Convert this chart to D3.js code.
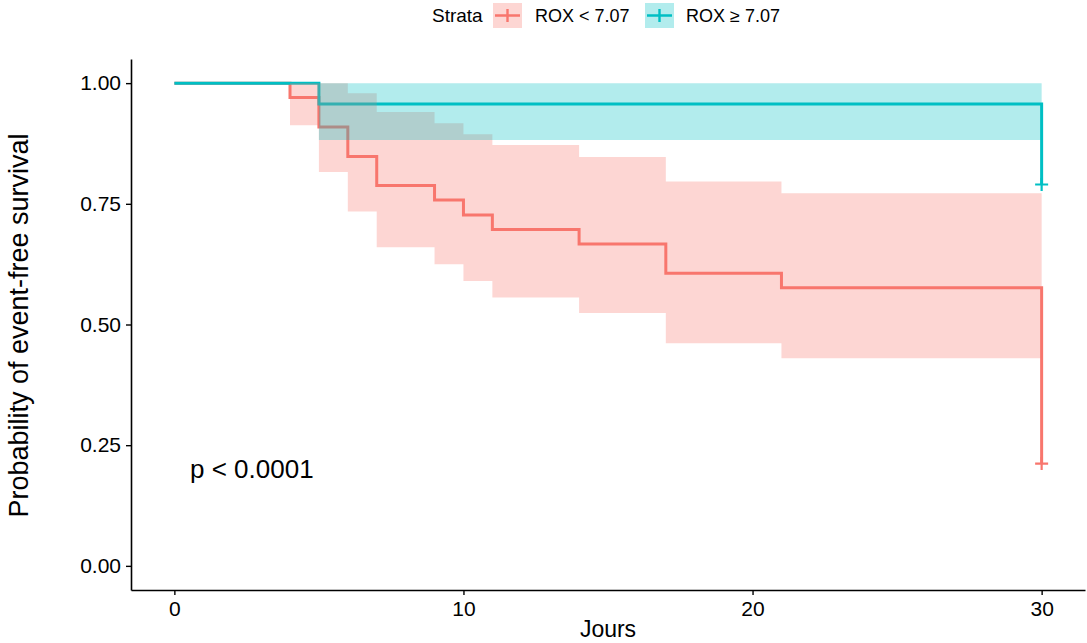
<!DOCTYPE html>
<html>
<head>
<meta charset="utf-8">
<script src="https://cdn.jsdelivr.net/npm/d3@7"></script>
<style>
  html, body { margin: 0; padding: 0; background: #ffffff; }
  svg { display: block; }
  text { font-family: "Liberation Sans", Arial, Helvetica, sans-serif; fill: #000; }
</style>
</head>
<body>
<svg id="chart" width="1087" height="643"></svg>
<script>
// Kaplan-Meier estimates by stratum (step values at each event time)
const lowTimes   = [0, 4, 5, 6, 7, 9, 10, 11, 14, 17, 21, 30];
const lowSurv    = [1, 0.970, 0.909, 0.848, 0.788, 0.758, 0.727, 0.697, 0.667, 0.606, 0.576, 0.212];
// 95% confidence limits on each interval [t_i, t_i+1)
const lowUpper   = [1, 1, 1, 0.979, 0.940, 0.917, 0.894, 0.872, 0.847, 0.796, 0.772];
const lowLower   = [1, 0.913, 0.816, 0.734, 0.660, 0.625, 0.590, 0.556, 0.524, 0.461, 0.430];
const lowCensor  = [[30, 0.212]];

const highTimes  = [0, 5, 30];
const highSurv   = [1, 0.957, 0.790];
const highUpper  = [1, 1];
const highLower  = [1, 0.882];
const highCensor = [[30, 0.790]];

const strataNames  = ["ROX < 7.07", "ROX \u2265 7.07"];
const strataColors = ["#F8766D", "#00BFC4"];
const xTicks = [0, 10, 20, 30];
const yTicks = [0, 0.25, 0.5, 0.75, 1];
const pValueLabel = "p < 0.0001";

const svg = d3.select("#chart");

// Panel geometry (ggplot-style 5% expansion on both axes)
const panel = { left: 131, right: 1085, top: 59, bottom: 590 };
const x = d3.scaleLinear().domain([-1.5, 31.5]).range([panel.left, panel.right]);
const y = d3.scaleLinear().domain([-0.05, 1.05]).range([panel.bottom, panel.top]);

const strata = [
  { times: lowTimes,  surv: lowSurv,  upper: lowUpper,  lower: lowLower,  censor: lowCensor,  color: strataColors[0] },
  { times: highTimes, surv: highSurv, upper: highUpper, lower: highLower, censor: highCensor, color: strataColors[1] }
];

const plot = svg.append("g");

// survival step lines
const line = d3.line().curve(d3.curveStepAfter).x(d => x(d[0])).y(d => y(d[1]));
strata.forEach(s => {
  const pts = s.times.map((t, i) => [t, s.surv[i]]);
  plot.append("path")
    .attr("d", line(pts))
    .attr("fill", "none")
    .attr("stroke", s.color)
    .attr("stroke-width", 3)
    .attr("stroke-linejoin", "miter");
});

// confidence bands
const area = d3.area().curve(d3.curveStepAfter)
  .x(d => x(d[0])).y0(d => y(d[1])).y1(d => y(d[2]));
strata.forEach(s => {
  const pts = s.upper.map((u, i) => [s.times[i], s.lower[i], u]);
  const last = s.upper.length - 1;
  pts.push([s.times[s.times.length - 1], s.lower[last], s.upper[last]]);
  plot.append("path")
    .attr("d", area(pts))
    .attr("fill", s.color)
    .attr("fill-opacity", 0.3)
    .attr("stroke", "none");
});

// censor marks
strata.forEach(s => {
  s.censor.forEach(c => {
    const cx = x(c[0]), cy = y(c[1]);
    plot.append("path")
      .attr("d", `M${cx - 6.5},${cy}H${cx + 6.5}M${cx},${cy - 6.5}V${cy + 6.5}`)
      .attr("stroke", s.color)
      .attr("stroke-width", 2.2)
      .attr("fill", "none");
  });
});

// axes
const xAxis = svg.append("g").attr("transform", `translate(0,${panel.bottom})`)
  .call(d3.axisBottom(x).tickValues(xTicks).tickSize(5).tickPadding(6).tickSizeOuter(0));
const yAxis = svg.append("g").attr("transform", `translate(${panel.left},0)`)
  .call(d3.axisLeft(y).tickValues(yTicks).tickFormat(d3.format(".2f")).tickSize(5).tickPadding(5).tickSizeOuter(0));
[xAxis, yAxis].forEach(a => {
  a.select(".domain").attr("stroke", "#000").attr("stroke-width", 1.6);
  a.selectAll(".tick line").attr("stroke", "#000").attr("stroke-width", 1.4);
  a.selectAll(".tick text").attr("font-size", 21).attr("fill", "#000")
    .attr("font-family", "Liberation Sans, Arial, sans-serif");
});
xAxis.selectAll(".tick text").attr("dy", "0.72em");

// axis titles
svg.append("text").attr("x", (panel.left + panel.right) / 2).attr("y", 637)
  .attr("text-anchor", "middle").attr("font-size", 23).text("Jours");
svg.append("text")
  .attr("transform", `translate(28,${(panel.top + panel.bottom) / 2 + 1}) rotate(-90)`)
  .attr("text-anchor", "middle").attr("font-size", 27).text("Probability of event-free survival");

// p-value annotation
svg.append("text").attr("x", 190).attr("y", 478).attr("font-size", 26).text(pValueLabel);

// legend
const legend = svg.append("g");
legend.append("text").attr("x", 432).attr("y", 22).attr("font-size", 19).text("Strata");
const keyX = [493, 645], labelX = [535, 686];
strataNames.forEach((name, i) => {
  const g = legend.append("g").attr("transform", `translate(${keyX[i]},3)`);
  g.append("rect").attr("width", 29).attr("height", 25)
    .attr("fill", strataColors[i]).attr("fill-opacity", 0.3);
  g.append("path").attr("d", "M2,12.5H27M14.5,6V19")
    .attr("stroke", strataColors[i]).attr("stroke-width", 2.4).attr("fill", "none");
  legend.append("text").attr("x", labelX[i]).attr("y", 22).attr("font-size", 18).text(name);
});
</script>
</body>
</html>
